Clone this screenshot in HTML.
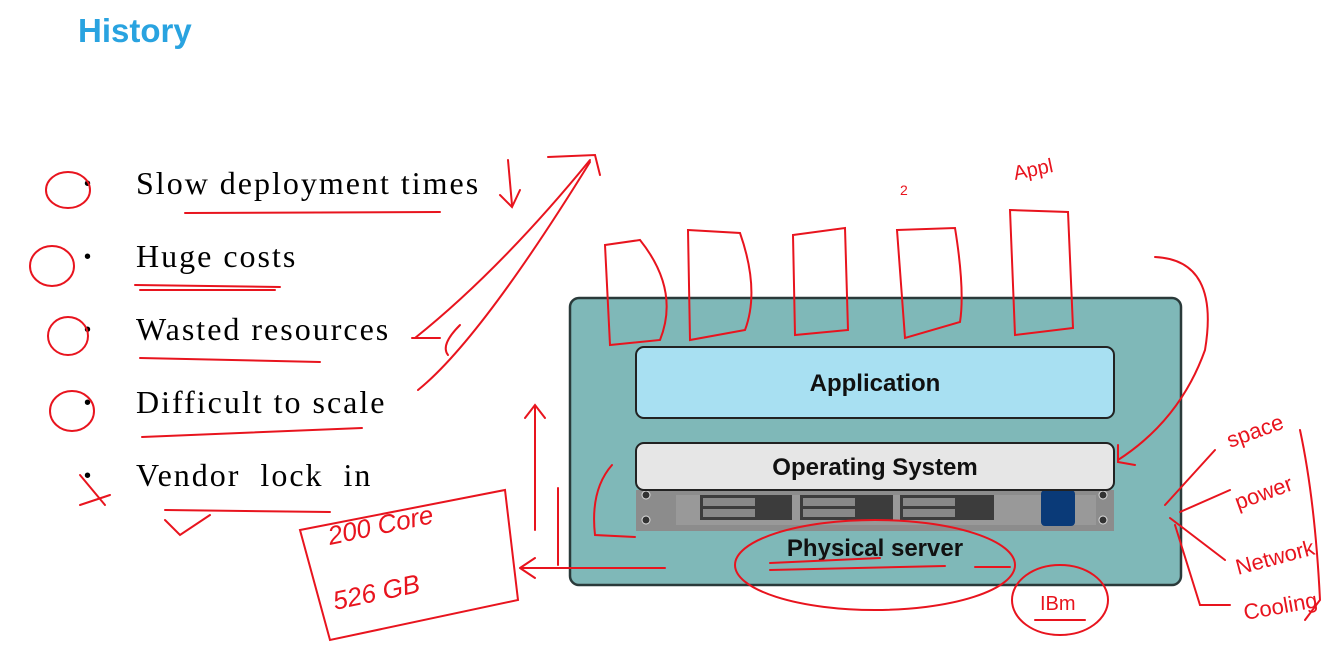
<!DOCTYPE html>
<html><head><meta charset="utf-8"><style>
body{margin:0;width:1344px;height:649px;background:#fff;position:relative;overflow:hidden;font-family:"Liberation Sans",sans-serif}
.h{position:absolute;left:78px;top:12px;font-size:33px;font-weight:bold;color:#29a3e0}
.b{position:absolute;left:136px;font-family:"Liberation Serif",serif;font-size:32px;letter-spacing:2px;color:#000}
.d{position:absolute;left:84px;font-size:20px}
</style></head><body>
<div class="h">History</div>
<div class="d" style="top:173px">•</div><div class="b" style="top:165px">Slow deployment times</div>
<div class="d" style="top:246px">•</div><div class="b" style="top:238px">Huge costs</div>
<div class="d" style="top:319px">•</div><div class="b" style="top:311px">Wasted resources</div>
<div class="d" style="top:392px">•</div><div class="b" style="top:384px">Difficult to scale</div>
<div class="d" style="top:465px">•</div><div class="b" style="top:457px">Vendor &nbsp;lock &nbsp;in</div>
<svg width="1344" height="649" style="position:absolute;left:0;top:0">
<rect x="570" y="298" width="611" height="287" rx="9" fill="#7fb8b8" stroke="#2a3a3a" stroke-width="2.5"/>
<rect x="636" y="347" width="478" height="71" rx="8" fill="#a8e0f2" stroke="#222" stroke-width="2"/>
<text x="875" y="391" font-size="24" font-weight="bold" text-anchor="middle" fill="#111">Application</text>
<rect x="636" y="490" width="478" height="41" fill="#8c8c8c"/>
<rect x="676" y="495" width="420" height="30" fill="#999"/>
<rect x="700" y="495" width="92" height="25" fill="#3c3c3c"/><rect x="703" y="498" width="52" height="8" fill="#888"/><rect x="703" y="509" width="52" height="8" fill="#888"/>
<rect x="800" y="495" width="93" height="25" fill="#3c3c3c"/><rect x="803" y="498" width="52" height="8" fill="#888"/><rect x="803" y="509" width="52" height="8" fill="#888"/>
<rect x="900" y="495" width="94" height="25" fill="#3c3c3c"/><rect x="903" y="498" width="52" height="8" fill="#888"/><rect x="903" y="509" width="52" height="8" fill="#888"/>
<rect x="1041" y="490" width="34" height="36" rx="4" fill="#0a3a78"/>
<g fill="#333" stroke="#ddd"><circle cx="646" cy="495" r="4"/><circle cx="646" cy="520" r="4"/><circle cx="1103" cy="495" r="4"/><circle cx="1103" cy="520" r="4"/></g>
<rect x="636" y="443" width="478" height="47" rx="8" fill="#e6e6e6" stroke="#222" stroke-width="2"/>
<text x="875" y="475" font-size="24" font-weight="bold" text-anchor="middle" fill="#111">Operating System</text>
<text x="875" y="556" font-size="24" font-weight="bold" text-anchor="middle" fill="#111">Physical server</text>
<g fill="none" stroke="#e8141e" stroke-width="2" stroke-linecap="round">
<ellipse cx="68" cy="190" rx="22" ry="18"/><ellipse cx="52" cy="266" rx="22" ry="20"/><ellipse cx="68" cy="336" rx="20" ry="19"/><ellipse cx="72" cy="411" rx="22" ry="20"/>
<path d="M185 213 L440 212"/><path d="M135 285 L280 287 M140 290 L275 290"/><path d="M140 358 L320 362"/><path d="M142 437 L362 428"/><path d="M165 510 L330 512 M165 520 L180 535 L210 515"/>
<path d="M80 475 L105 505 M80 505 L110 495"/>
<path d="M508 160 L512 205 M500 195 L512 207 L520 190"/>
<path d="M415 338 Q500 270 590 160 M548 157 L595 155 L600 175"/>
<path d="M412 338 L440 338 M460 325 Q440 345 448 355"/>
<path d="M418 390 Q480 340 590 162"/>
<path d="M535 530 L535 405 M525 418 L535 405 L545 418"/>
<path d="M558 488 L558 565 M520 568 L665 568 M520 568 L535 558 M520 568 L535 578"/>
<path d="M300 530 L505 490 L518 600 L330 640 Z"/>
<text x="330" y="545" font-size="26" fill="#e8141e" stroke="none" font-style="italic" transform="rotate(-12 330 545)">200 Core</text>
<text x="335" y="610" font-size="26" fill="#e8141e" stroke="none" font-style="italic" transform="rotate(-12 335 610)">526 GB</text>
<path d="M605 245 L640 240 Q680 290 660 340 L610 345 Z"/>
<path d="M688 230 L740 233 Q760 290 745 330 L690 340 Z"/>
<path d="M793 235 L845 228 L848 330 L795 335 Z"/>
<path d="M897 230 L955 228 Q965 290 960 322 L905 338 Z"/>
<path d="M1010 210 L1068 212 L1073 328 L1015 335 Z"/>
<text x="1015" y="180" font-size="20" fill="#e8141e" stroke="none" transform="rotate(-12 1015 180)">Appl</text>
<text x="900" y="195" font-size="14" fill="#e8141e" stroke="none">2</text>
<path d="M1155 257 Q1220 260 1205 350 Q1180 420 1118 460 M1118 445 L1118 462 L1135 465"/>
<path d="M612 465 Q590 490 595 535 L635 537"/>
<ellipse cx="875" cy="565" rx="140" ry="45"/>
<path d="M770 563 L880 558 M770 570 L945 566 M975 567 L1010 567"/>
<ellipse cx="1060" cy="600" rx="48" ry="35"/>
<text x="1040" y="610" font-size="20" fill="#e8141e" stroke="none">IBm</text>
<path d="M1035 620 L1085 620"/>
<path d="M1165 505 L1215 450 M1180 512 L1230 490 M1170 518 L1225 560 M1175 525 L1200 605 L1230 605"/>
<path d="M1300 430 Q1315 500 1320 600 L1305 620"/>
<text x="1230" y="448" font-size="22" fill="#e8141e" stroke="none" transform="rotate(-20 1230 448)">space</text>
<text x="1238" y="510" font-size="22" fill="#e8141e" stroke="none" transform="rotate(-20 1238 510)">power</text>
<text x="1238" y="575" font-size="22" fill="#e8141e" stroke="none" transform="rotate(-15 1238 575)">Network</text>
<text x="1245" y="620" font-size="22" fill="#e8141e" stroke="none" transform="rotate(-10 1245 620)">Cooling</text>
</g>
</svg>
</body></html>
